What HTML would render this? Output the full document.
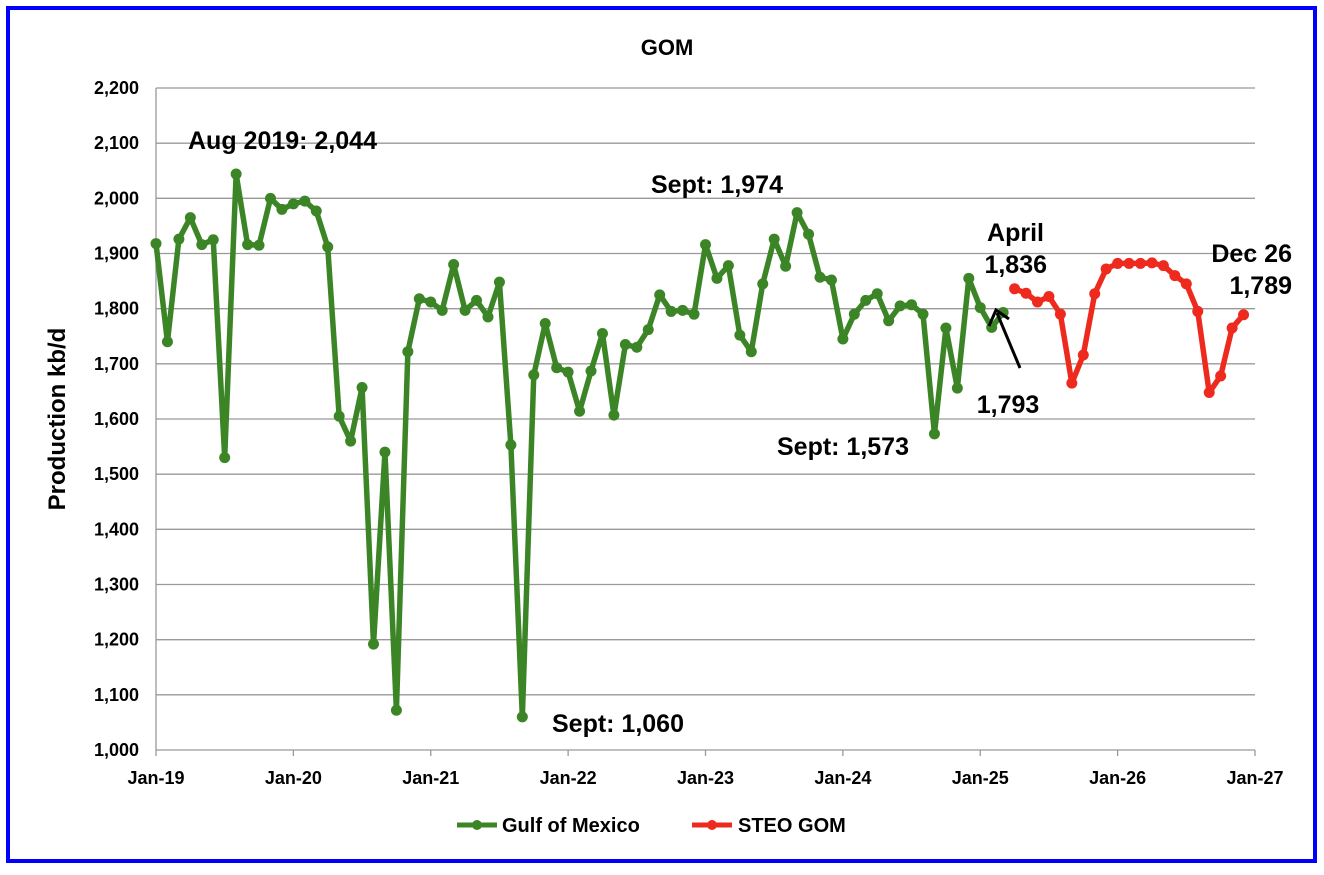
<!DOCTYPE html>
<html><head><meta charset="utf-8"><style>
body{margin:0;background:#fff;font-family:"Liberation Sans",Arial,sans-serif}
svg text{font-family:"Liberation Sans",Arial,sans-serif;font-weight:bold}
</style></head><body>
<svg id="chart" width="1324" height="870" xmlns="http://www.w3.org/2000/svg">
<rect x="8" y="8" width="1307" height="853" fill="#fff" stroke="#0000ff" stroke-width="4"/>
<text x="667" y="55" font-size="22" text-anchor="middle">GOM</text>
<text transform="translate(65,419) rotate(-90)" font-size="24" text-anchor="middle">Production kb/d</text>
<g id="grid"></g><g id="yticks"></g><g id="xticks"></g>
<g id="series"></g>
<g font-size="25">
<text x="188" y="149">Aug 2019: 2,044</text>
<text x="717" y="193" text-anchor="middle">Sept: 1,974</text>
<text x="1044" y="241" text-anchor="end">April</text>
<text x="1047" y="273" text-anchor="end">1,836</text>
<text x="1292" y="262" text-anchor="end">Dec 26</text>
<text x="1292" y="294" text-anchor="end">1,789</text>
<text x="1008" y="413" text-anchor="middle">1,793</text>
<text x="843" y="455" text-anchor="middle">Sept: 1,573</text>
<text x="618" y="732" text-anchor="middle">Sept: 1,060</text>
</g>
<g stroke="#000" stroke-width="3" fill="none">
<line x1="1020" y1="368" x2="997" y2="313"/><polyline points="989,326 996,310 1009,319"/>
</g>
<g font-size="20">
<g>
<line x1="457" y1="825" x2="497" y2="825" stroke="#3c8527" stroke-width="5"/><circle cx="477" cy="825" r="5" fill="#3c8527"/>
<text x="502" y="832">Gulf of Mexico</text></g>
<g>
<line x1="692" y1="825" x2="732" y2="825" stroke="#ee2a1f" stroke-width="5"/><circle cx="712" cy="825" r="5" fill="#ee2a1f"/>
<text x="738" y="832">STEO GOM</text></g>
</g>
</svg>
<script>
const yTicks=[1000,1100,1200,1300,1400,1500,1600,1700,1800,1900,2000,2100,2200];
const xTickLabels=["Jan-19","Jan-20","Jan-21","Jan-22","Jan-23","Jan-24","Jan-25","Jan-26","Jan-27"];
const gomValues=[1918,1740,1926,1965,1916,1925,1530,2044,1916,1915,2000,1980,
1990,1995,1977,1912,1605,1560,1657,1192,1540,1072,1722,1818,
1812,1797,1880,1797,1815,1785,1848,1553,1060,1680,1773,1693,
1685,1614,1687,1755,1607,1735,1730,1762,1825,1795,1797,1790,
1916,1855,1878,1752,1722,1845,1926,1877,1974,1935,1857,1852,
1745,1790,1815,1827,1778,1805,1807,1790,1573,1765,1656,1855,
1802,1766,1793];
const steoStartMonth=75;
const steoValues=[1836,1828,1812,1822,1790,1665,1716,1827,1872,1882,1882,1882,1883,1878,1860,1845,1795,1648,1678,1765,1789];
const NS="http://www.w3.org/2000/svg";
const x0=156,x1=1255,y0=750,y1=88;
const xs=m=>x0+(x1-x0)*m/96;
const ys=v=>y0-(y0-y1)*(v-1000)/1200;
function mk(p,t,a){const e=document.createElementNS(NS,t);for(const k in a)e.setAttribute(k,a[k]);p.appendChild(e);return e;}
const grid=document.getElementById('grid'),yt=document.getElementById('yticks'),xt=document.getElementById('xticks'),ser=document.getElementById('series');
yTicks.forEach(v=>{
 const l=mk(grid,'line',{x1:x0,x2:x1,y1:ys(v),y2:ys(v),stroke:'#999','stroke-width':1.3});
 
 
 const t=mk(yt,'text',{x:139,y:ys(v)+6,'font-size':18,'text-anchor':'end'});
 
 
 t.textContent=v.toLocaleString('en-US');
});
const ax=mk(grid,'line',{x1:x0,x2:x0,y1:y1,y2:y0,stroke:'#999','stroke-width':1.3});


xTickLabels.forEach((s,i)=>{
 const x=xs(i*12);
 const tk=mk(xt,'line',{x1:x,x2:x,y1:y0,y2:y0+6,stroke:'#999','stroke-width':1.3});
 
 
 const t=mk(xt,'text',{x:x,y:y0+34,'font-size':18,'text-anchor':'middle'});
 
 
 t.textContent=s;
});
function draw(vals,start,color,name){
 const pts=vals.map((v,i)=>xs(start+i)+','+ys(v)).join(' ');
 const pl=mk(ser,'polyline',{points:pts,fill:'none',stroke:color,'stroke-width':5.5,'stroke-linejoin':'round'});
 
 
 vals.forEach((v,i)=>{
  const c=mk(ser,'circle',{cx:xs(start+i),cy:ys(v),r:5.5,fill:color});
  
  
 });
}
draw(gomValues,0,'#3c8527','gulf-of-mexico');
draw(steoValues,steoStartMonth,'#ee2a1f','steo-gom');
</script>
</body></html>
